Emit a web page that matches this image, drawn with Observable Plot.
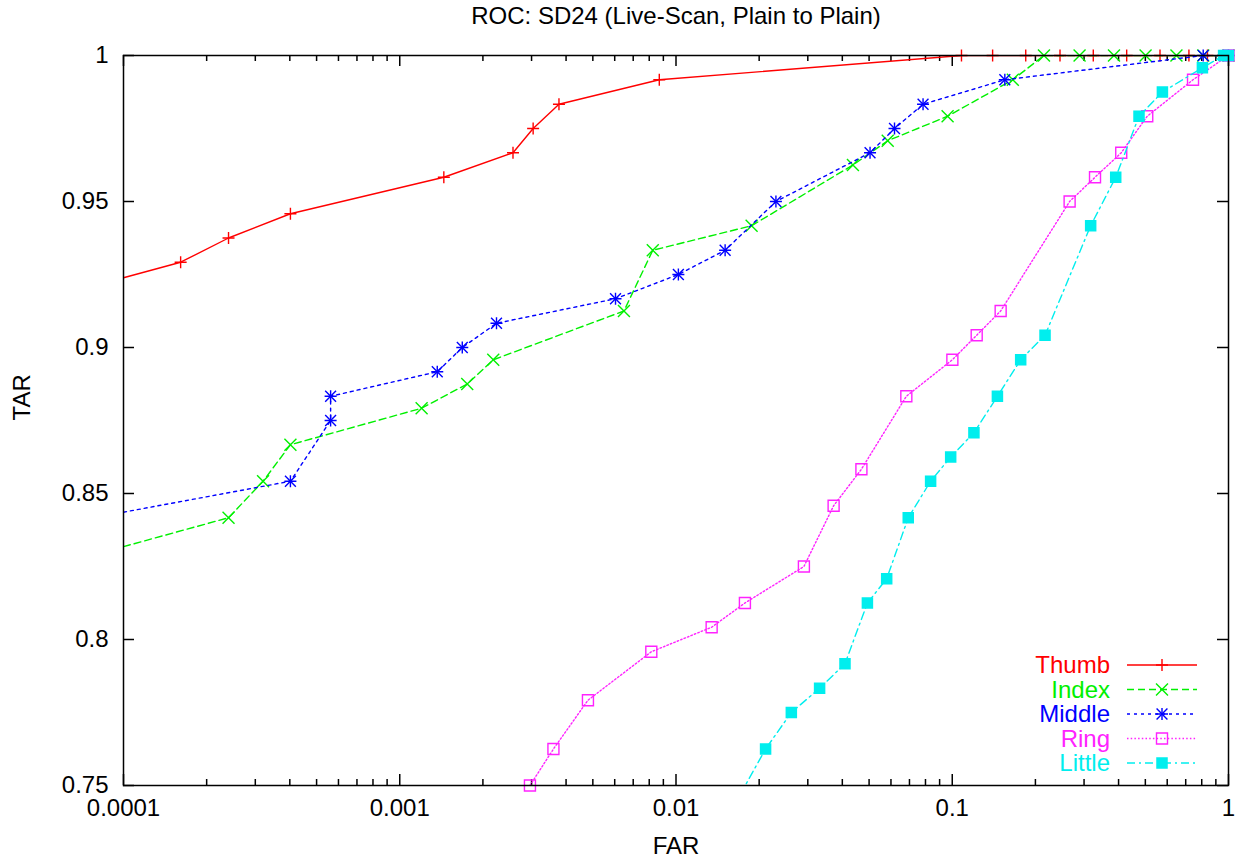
<!DOCTYPE html>
<html>
<head>
<meta charset="utf-8">
<script src="https://cdn.jsdelivr.net/npm/d3@7"></script>
<script src="https://cdn.jsdelivr.net/npm/@observablehq/plot@0.6"></script>
<style>
  html, body { margin: 0; padding: 0; background: #fff; }
  #wrap { position: relative; width: 1238px; height: 860px; }
  #legend { position: absolute; left: 0; top: 0; pointer-events: none; }
</style>
</head>
<body>
<div id="wrap"></div>
<script>
// ---------------- data ----------------
const titleText = "ROC: SD24 (Live-Scan, Plain to Plain)";
const xLabel = "FAR";
const yLabel = "TAR";

const xTicks = [0.0001, 0.001, 0.01, 0.1, 1];
const xTickLabels = ["0.0001", "0.001", "0.01", "0.1", "1"];
const yTicks = [0.75, 0.8, 0.85, 0.9, 0.95, 1];
const yTickLabels = ["0.75", "0.8", "0.85", "0.9", "0.95", "1"];

const seriesNames = ["Thumb", "Index", "Middle", "Ring", "Little"];

const thumbFar = [0.0001, 0.000161, 0.00024, 0.000402, 0.001444, 0.00257, 0.00304, 0.00377, 0.0087, 0.108, 0.14, 0.1845, 0.2455, 0.324, 0.428, 0.565, 0.719, 0.839, 1];
const thumbTar = [0.9239, 0.9292, 0.9375, 0.9458, 0.9583, 0.9667, 0.975, 0.9833, 0.9917, 1, 1, 1, 1, 1, 1, 1, 1, 1, 1];

const indexFar = [0.0001, 0.00024, 0.00032, 0.000402, 0.0012, 0.001755, 0.00218, 0.00648, 0.00824, 0.01878, 0.0437, 0.0584, 0.0962, 0.1657, 0.2148, 0.289, 0.385, 0.501, 0.648, 0.81, 1];
const indexTar = [0.8318, 0.8417, 0.8542, 0.8667, 0.8792, 0.8875, 0.8958, 0.9125, 0.9333, 0.9417, 0.9625, 0.9708, 0.9792, 0.9917, 1, 1, 1, 1, 1, 1, 1];

const middleFar = [0.0001, 0.000402, 0.000562, 0.000562, 0.001367, 0.001684, 0.00224, 0.00604, 0.0102, 0.01506, 0.023, 0.0504, 0.0618, 0.0784, 0.155, 0.81, 1];
const middleTar = [0.8436, 0.8542, 0.875, 0.8833, 0.8917, 0.9, 0.9083, 0.9167, 0.925, 0.9333, 0.95, 0.9667, 0.975, 0.9833, 0.9917, 1, 1];

const ringFar = [0.00296, 0.0036, 0.0048, 0.00814, 0.01346, 0.01776, 0.02904, 0.0372, 0.0469, 0.0682, 0.1001, 0.1226, 0.1497, 0.266, 0.3287, 0.409, 0.508, 0.744, 1];
const ringTar = [0.75, 0.7625, 0.7792, 0.7958, 0.8042, 0.8125, 0.825, 0.8458, 0.8583, 0.8833, 0.8958, 0.9042, 0.9125, 0.95, 0.9583, 0.9667, 0.9792, 0.9917, 1];

const littleFar = [0.0159, 0.0211, 0.02615, 0.0331, 0.0409, 0.0493, 0.0579, 0.0693, 0.0835, 0.0987, 0.1198, 0.1457, 0.1769, 0.2167, 0.317, 0.3906, 0.4743, 0.5764, 0.8045, 0.96, 1];
const littleTar = [0.7417, 0.7625, 0.775, 0.7833, 0.7917, 0.8125, 0.8208, 0.8417, 0.8542, 0.8625, 0.8708, 0.8833, 0.8958, 0.9042, 0.9417, 0.9583, 0.9792, 0.9875, 0.9958, 1, 1];

// ---------------- styling ----------------
const W = 1238, H = 860;
const mTop = 55, mBottom = 75, mLeft = 123, mRight = 10;
const innerH = H - mTop - mBottom, innerW = W - mLeft - mRight;
const FONT = "'Liberation Sans', Arial, Helvetica, sans-serif";
const FS = 24;

const styles = [
  {name: "Thumb",  color: "#ff0000", dash: null,        marks: [{symbol: "plus", r: 3.95, kind: "stroke"}]},
  {name: "Index",  color: "#00f000", dash: "7,4",       marks: [{symbol: "times", r: 5.5, kind: "stroke"}]},
  {name: "Middle", color: "#0000ff", dash: "3,4",       marks: [{symbol: "plus", r: 3.95, kind: "stroke"}, {symbol: "times", r: 5.0, kind: "stroke"}]},
  {name: "Ring",   color: "#ff22ff", dash: "1.5,2.2",   marks: [{symbol: "square2", r: 7, kind: "stroke"}]},
  {name: "Little", color: "#00eeee", dash: "8,4,2,4",   marks: [{symbol: "square", r: 6.5, kind: "fill"}]}
];

const rows = (far, tar) => far.map((f, i) => ({far: f, tar: tar[i]}));
const seriesData = [
  rows(thumbFar, thumbTar),
  rows(indexFar, indexTar),
  rows(middleFar, middleTar),
  rows(ringFar, ringTar),
  rows(littleFar, littleTar)
];

// minor log ticks (2..9 per decade)
const xMinor = [];
for (let e = -4; e < 0; e++) for (let k = 2; k <= 9; k++) xMinor.push(k * Math.pow(10, e));

const inDomain = d => d.far > 0.000101 && d.tar >= 0.7499;

const seriesMarks = [];
seriesData.forEach((data, i) => {
  const s = styles[i];
  seriesMarks.push(Plot.line(data, {
    x: "far", y: "tar", stroke: s.color, strokeWidth: 1.4,
    strokeDasharray: s.dash, clip: true
  }));
  const pts = data.filter(inDomain);
  s.marks.forEach(m => {
    if (m.kind === "stroke") {
      seriesMarks.push(Plot.dot(pts, {x: "far", y: "tar", symbol: m.symbol, r: m.r, stroke: s.color, strokeWidth: 1.4, fill: "none"}));
    } else {
      seriesMarks.push(Plot.dot(pts, {x: "far", y: "tar", symbol: m.symbol, r: m.r, fill: s.color, stroke: "none"}));
    }
  });
});

const chart = Plot.plot({
  width: W, height: H,
  marginTop: mTop, marginBottom: mBottom, marginLeft: mLeft, marginRight: mRight,
  style: {fontFamily: FONT, fontSize: FS + "px", background: "white", color: "black"},
  x: {type: "log", domain: [0.0001, 1]},
  y: {domain: [0.75, 1]},
  marks: [
    // inward ticks, mirrored
    Plot.tickX(xTicks, {x: d => d, insetTop: innerH - 11, stroke: "black", strokeWidth: 1.5}),
    Plot.tickX(xTicks, {x: d => d, insetBottom: innerH - 11, stroke: "black", strokeWidth: 1.5}),
    Plot.tickX(xMinor, {x: d => d, insetTop: innerH - 6, stroke: "black", strokeWidth: 1.5}),
    Plot.tickX(xMinor, {x: d => d, insetBottom: innerH - 6, stroke: "black", strokeWidth: 1.5}),
    Plot.tickY(yTicks, {y: d => d, insetRight: innerW - 11, stroke: "black", strokeWidth: 1.5}),
    Plot.tickY(yTicks, {y: d => d, insetLeft: innerW - 11, stroke: "black", strokeWidth: 1.5}),
    Plot.axisX(xTicks, {
      tickSize: 0, tickPadding: 13, fontSize: FS, label: null,
      tickFormat: d => xTickLabels[xTicks.indexOf(d)]
    }),
    Plot.axisY(yTicks, {
      tickSize: 0, tickPadding: 15, fontSize: FS, label: null,
      tickFormat: d => yTickLabels[yTicks.findIndex(v => Math.abs(v - d) < 1e-9)]
    }),
    ...seriesMarks,
    Plot.frame({stroke: "black", strokeWidth: 1.5}),
    Plot.text([titleText], {frameAnchor: "top", dy: -39, lineAnchor: "middle", fontSize: FS, fill: "black"}),
    Plot.text([xLabel], {frameAnchor: "bottom", dy: 61, lineAnchor: "middle", fontSize: FS, fill: "black"}),
    Plot.text([yLabel], {frameAnchor: "left", dx: -101, rotate: -90, lineAnchor: "middle", fontSize: FS, fill: "black"})
  ]
});

const wrap = document.getElementById("wrap");
wrap.appendChild(chart);

// ---------------- legend (overlay) ----------------
const legendRight = 1110, sampleX1 = 1127, sampleX2 = 1197, sampleMid = 1162;
const legendTop = 665, legendStep = 24.5;
const symMap = {plus: d3.symbolPlus, times: d3.symbolTimes, square2: d3.symbolSquare2, square: d3.symbolSquare};
const lsvg = d3.select(wrap).append("svg")
  .attr("id", "legend").attr("width", W).attr("height", H)
  .style("font-family", FONT).style("font-size", FS + "px");
styles.forEach((s, i) => {
  const y = legendTop + i * legendStep;
  lsvg.append("text").attr("x", legendRight).attr("y", y).attr("dy", "0.35em")
    .attr("text-anchor", "end").attr("fill", s.color).text(seriesNames[i]);
  lsvg.append("line").attr("x1", sampleX1).attr("x2", sampleX2).attr("y1", y).attr("y2", y)
    .attr("stroke", s.color).attr("stroke-width", 1.4)
    .attr("stroke-dasharray", s.dash);
  s.marks.forEach(m => {
    const p = d3.symbol(symMap[m.symbol], Math.PI * m.r * m.r)();
    const el = lsvg.append("path").attr("d", p).attr("transform", `translate(${sampleMid},${y})`);
    if (m.kind === "stroke") el.attr("fill", "none").attr("stroke", s.color).attr("stroke-width", 1.4);
    else el.attr("fill", s.color);
  });
});
</script>
</body>
</html>
